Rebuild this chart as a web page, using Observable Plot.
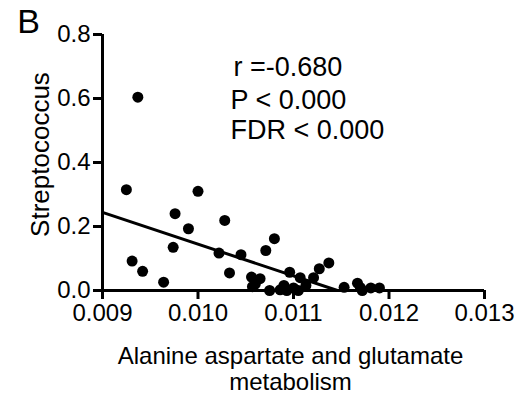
<!DOCTYPE html>
<html><head><meta charset="utf-8">
<script src="https://cdn.jsdelivr.net/npm/d3@7"></script>
<script src="https://cdn.jsdelivr.net/npm/@observablehq/plot@0.6"></script>
<style>body{margin:0;background:#fff;} svg{font-family:"Liberation Sans",Arial,sans-serif;}</style>
</head><body><div id="chart"></div>
<script>
const xValues = [0.00925,0.00937,0.00931,0.00942,0.00964,0.00974,0.00976,0.0099,0.0100,0.01022,0.01028,0.01033,0.01045,0.01056,0.01065,0.01057,0.0106,0.01071,0.0108,0.01075,0.01086,0.0109,0.01093,0.01096,0.0110,0.01107,0.01105,0.01113,0.01121,0.01127,0.01137,0.01153,0.01167,0.0117,0.01172,0.01181,0.0119];
const yValues = [0.315,0.604,0.092,0.060,0.026,0.135,0.240,0.193,0.310,0.117,0.219,0.055,0.112,0.042,0.037,0.012,0.020,0.125,0.162,0.0,0.002,0.016,0.0,0.057,0.008,0.040,0.0,0.016,0.040,0.068,0.086,0.010,0.023,0.009,0.0,0.008,0.008];
const fitX = [0.009, 0.01146];
const fitY = [0.244, 0.0];
const xTicks = [0.009, 0.010, 0.011, 0.012, 0.013];
const yTicks = [0.0, 0.2, 0.4, 0.6, 0.8];
const statLines = ["r =-0.680", "P < 0.000", "FDR < 0.000"];

const points = xValues.map((x, i) => ({x, y: yValues[i]}));
const fit = fitX.map((x, i) => ({x, y: fitY[i]}));

const statPos = [[131, 33], [128, 66], [128, 96]];

const plot = Plot.plot({
  width: 525, height: 397,
  marginLeft: 102, marginRight: 41, marginTop: 34, marginBottom: 107,
  style: {fontFamily: '"Liberation Sans", Arial, sans-serif', color: "#000", background: "#fff"},
  x: {domain: [0.009, 0.013]},
  y: {domain: [0, 0.8]},
  marks: [
    Plot.axisX({ticks: xTicks, tickFormat: d3.format(".3f"), fontSize: 24, tickSize: 9, tickPadding: 4, strokeWidth: 3, label: null}),
    Plot.axisY({ticks: yTicks, tickFormat: d3.format(".1f"), fontSize: 24, tickSize: 9, tickPadding: 3, strokeWidth: 3, label: null}),
    Plot.ruleY([0], {strokeWidth: 3}),
    Plot.ruleX([0.009], {strokeWidth: 3}),
    Plot.line(fit, {x: "x", y: "y", strokeWidth: 3}),
    Plot.dot(points, {x: "x", y: "y", r: 5.5, fill: "black"}),
    ...statLines.map((s, i) => Plot.text([s], {frameAnchor: "top-left", textAnchor: "start", lineAnchor: "middle", dx: statPos[i][0], dy: statPos[i][1], fontSize: 27})),
    Plot.text(["Streptococcus"], {frameAnchor: "left", textAnchor: "middle", lineAnchor: "middle", rotate: -90, dx: -62, dy: -8, fontSize: 26}),
    Plot.text(["Alanine aspartate and glutamate\nmetabolism"], {frameAnchor: "bottom", textAnchor: "middle", lineAnchor: "top", dx: -3, dy: 56, fontSize: 24, lineHeight: 1.05}),
    Plot.text(["B"], {frameAnchor: "top-left", textAnchor: "middle", lineAnchor: "middle", dx: -74, dy: -12, fontSize: 34})
  ]
});
document.getElementById("chart").appendChild(plot);
</script>
</body></html>
